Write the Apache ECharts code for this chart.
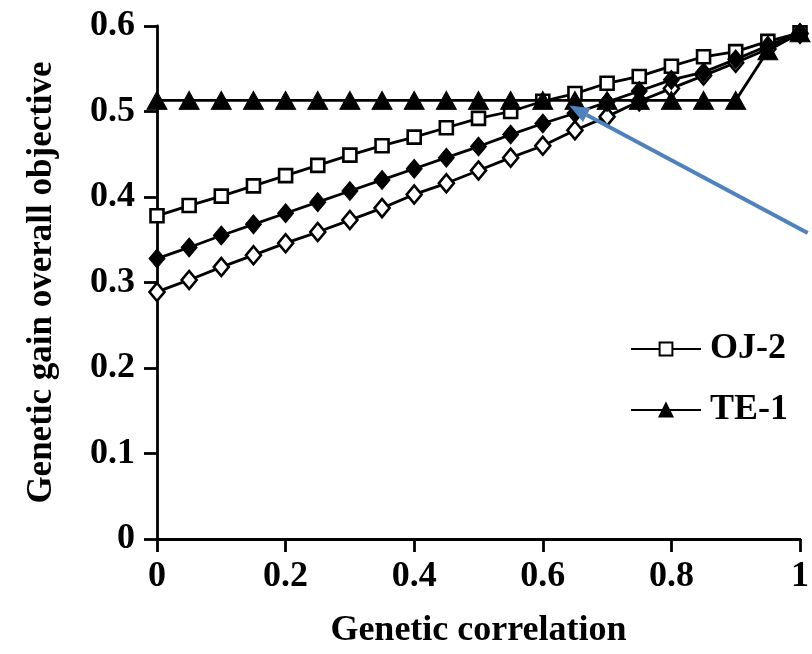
<!DOCTYPE html>
<html>
<head>
<meta charset="utf-8">
<script src="https://cdn.jsdelivr.net/npm/echarts@6/dist/echarts.min.js"></script>
<style>
html,body{margin:0;padding:0;background:#fff;}
#chart{width:812px;height:654px;}
</style>
</head>
<body>
<div id="chart"></div>
<script>
// Genetic correlation (x)
var correlation = [0,0.05,0.1,0.15,0.2,0.25,0.3,0.35,0.4,0.45,0.5,0.55,0.6,0.65,0.7,0.75,0.8,0.85,0.9,0.95,1];
// Series values (genetic gain overall objective)
var oj2 = [0.378,0.390,0.401,0.413,0.425,0.437,0.449,0.460,0.470,0.481,0.492,0.500,0.512,0.521,0.533,0.541,0.553,0.564,0.570,0.582,0.592];
var filledDiamond = [0.328,0.341,0.355,0.368,0.381,0.394,0.407,0.420,0.433,0.446,0.459,0.473,0.486,0.498,0.511,0.524,0.537,0.546,0.561,0.577,0.592];
var openDiamond = [0.289,0.303,0.318,0.332,0.346,0.359,0.373,0.387,0.403,0.416,0.431,0.446,0.460,0.478,0.494,0.512,0.527,0.542,0.557,0.573,0.591];
var te1 = [0.513,0.513,0.513,0.513,0.513,0.513,0.513,0.513,0.513,0.513,0.513,0.513,0.513,0.513,0.513,0.513,0.513,0.513,0.513,0.571,0.592];
// Arrow annotation (data coordinates: tip, tail)
var arrowTip = [0.641,0.507];
var arrowTail = [1.012,0.358];

function pairs(xs, ys){ return xs.map(function(x,i){ return [x, ys[i]]; }); }

var FONT = 'Liberation Serif';
var chart = echarts.init(document.getElementById('chart'), null, {renderer:'canvas'});
var lineStyle = {color:'#000', width:2.8};

chart.setOption({
  backgroundColor:'#ffffff',
  animation:false,
  grid:{left:157, right:8, top:26, bottom:114, containLabel:false},
  legend:{
    data:['OJ-2','TE-1'],
    orient:'vertical',
    left:625, top:326,
    itemWidth:70, itemHeight:16, itemGap:25,
    textStyle:{fontFamily:FONT, fontWeight:'bold', fontSize:36, color:'#000', padding:[0,0,0,4]}
  },
  xAxis:{
    type:'value', min:0, max:1, interval:0.2,
    name:'Genetic correlation', nameLocation:'middle', nameGap:74,
    nameTextStyle:{fontFamily:FONT, fontWeight:'bold', fontSize:36, color:'#000'},
    axisLine:{lineStyle:{color:'#000', width:2.8}},
    axisTick:{inside:false, length:13, lineStyle:{color:'#000', width:2.8}},
    axisLabel:{fontFamily:FONT, fontWeight:'bold', fontSize:36, color:'#000', margin:20},
    splitLine:{show:false}
  },
  yAxis:{
    type:'value', min:0, max:0.6, interval:0.1,
    name:'Genetic gain overall objective', nameLocation:'middle', nameGap:98,
    nameTextStyle:{fontFamily:FONT, fontWeight:'bold', fontSize:35, color:'#000'},
    axisLine:{show:true, lineStyle:{color:'#000', width:2.8}},
    axisTick:{show:true, inside:false, length:13, lineStyle:{color:'#000', width:2.8}},
    axisLabel:{fontFamily:FONT, fontWeight:'bold', fontSize:36, color:'#000', margin:22},
    splitLine:{show:false}
  },
  series:[
    {name:'OJ-2', type:'line', data:pairs(correlation, oj2), symbol:'rect', symbolSize:13,
      itemStyle:{color:'#fff', borderColor:'#000', borderWidth:2.6}, lineStyle:lineStyle, z:2},
    {name:'Open diamond', type:'line', data:pairs(correlation, openDiamond), symbol:'diamond', symbolSize:[15,18],
      itemStyle:{color:'#fff', borderColor:'#000', borderWidth:2.6}, lineStyle:lineStyle, z:3},
    {name:'Filled diamond', type:'line', data:pairs(correlation, filledDiamond), symbol:'diamond', symbolSize:[16,19],
      itemStyle:{color:'#000', borderColor:'#000', borderWidth:1}, lineStyle:lineStyle, z:4},
    {name:'TE-1', type:'line', data:pairs(correlation, te1), symbol:'triangle', symbolSize:[20,18],
      itemStyle:{color:'#000', borderColor:'#000', borderWidth:1}, lineStyle:lineStyle, z:5}
  ]
});

// Blue arrow annotation positioned through the axes
var tip = chart.convertToPixel({gridIndex:0}, arrowTip);
var tail = chart.convertToPixel({gridIndex:0}, arrowTail);
var dx = tip[0]-tail[0], dy = tip[1]-tail[1];
var len = Math.sqrt(dx*dx+dy*dy), ux = dx/len, uy = dy/len;
var headLen = 20, headW = 8;
var bx = tip[0]-ux*headLen, by = tip[1]-uy*headLen;
chart.setOption({
  graphic:[
    {type:'line', shape:{x1:tail[0], y1:tail[1], x2:bx, y2:by}, style:{stroke:'#4f81bd', lineWidth:4}, z:100},
    {type:'polygon', shape:{points:[[tip[0],tip[1]],[bx-uy*headW, by+ux*headW],[bx+uy*headW, by-ux*headW]]}, style:{fill:'#4f81bd'}, z:100}
  ]
});
</script>
</body>
</html>
